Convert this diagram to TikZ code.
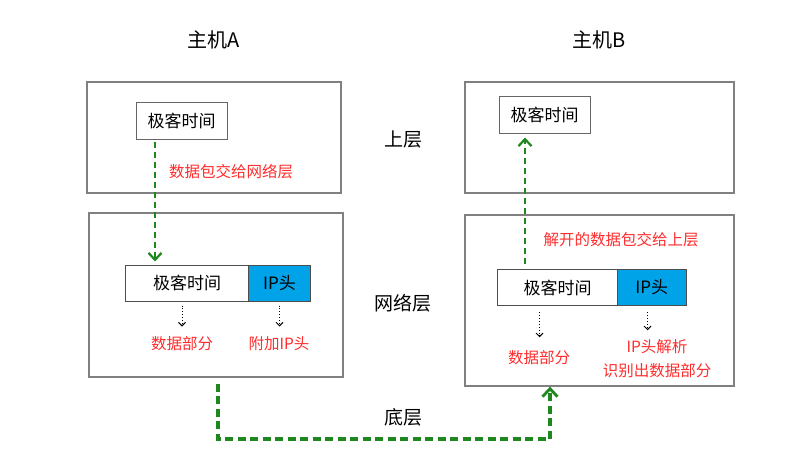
\documentclass[tikz,border=0pt]{standalone}
\usepackage{fontspec}
\setmainfont{Noto Sans CJK SC}
\usetikzlibrary{arrows.meta}
\definecolor{gborder}{RGB}{128,128,128}
\definecolor{ipblue}{RGB}{0,162,232}
\definecolor{ggreen}{RGB}{30,135,30}
\definecolor{tred}{RGB}{255,45,45}
\tikzset{
  layerbox/.style={draw=gborder, line width=1.3pt, minimum width=#1, inner sep=0pt},
  appbox/.style={draw=gborder!80!black, line width=1pt, inner sep=0pt, font=\fontsize{17}{19}\selectfont},
  datacell/.style={draw=gborder!60!black, line width=1pt, fill=white, inner sep=0pt, font=\fontsize{17}{19}\selectfont},
  ipcell/.style={draw=gborder!60!black, line width=1pt, fill=ipblue, inner sep=0pt, font=\fontsize{17}{19}\selectfont},
  redtxt/.style={text=tred, inner sep=0pt, font=\fontsize{15.5}{24}\selectfont, align=center},
  title/.style={inner sep=0pt, font=\fontsize{20}{22}\selectfont},
  layerlbl/.style={inner sep=0pt, font=\fontsize{19}{21}\selectfont},
  garrow/.style={draw=ggreen, line width=2.6pt, dash pattern=on 6pt off 4pt, -{Straight Barb[length=7pt,width=13pt,line width=2.2pt]}},
  groute/.style={draw=ggreen, line width=3.4pt, dash pattern=on 8pt off 4.5pt, -{Straight Barb[length=8pt,width=15pt,line width=2.8pt]}},
  darrow/.style={draw=black, line width=0.9pt, dotted, -{Straight Barb[length=3.5pt,width=7pt,line width=0.9pt]}},
}
\begin{document}
\begin{tikzpicture}[x=1pt,y=-1pt]
\path[use as bounding box, fill=white] (0,0) rectangle (796,460);

% titles
\node[title] (tA) at (214,40) {主机A};
\node[title] (tB) at (599,40) {主机B};

% layer labels
\node[layerlbl] (lUp) at (403,140) {上层};
\node[layerlbl] (lNet) at (403,303) {网络层};
\node[layerlbl] (lBot) at (403,417) {底层};

% host A boxes
\node[layerbox=254pt, minimum height=111pt] (aUp) at (214,137.5) {};
\node[layerbox=254pt, minimum height=164pt] (aNet) at (216,295) {};
\node[appbox, minimum width=91pt, minimum height=36pt] (aApp) at (181.5,121) {极客时间};
\node[datacell, minimum width=122.5pt, minimum height=36pt] (aData) at (187,283) {极客时间};
\node[ipcell, minimum width=62.5pt, minimum height=36pt] (aIP) at (279.5,283) {IP头};

% host B boxes
\node[layerbox=269pt, minimum height=111pt] (bUp) at (599.5,137.5) {};
\node[layerbox=269pt, minimum height=171pt] (bNet) at (599.5,300.5) {};
\node[appbox, minimum width=91pt, minimum height=36pt] (bApp) at (544.5,115) {极客时间};
\node[datacell, minimum width=120pt, minimum height=36.5pt] (bData) at (557.5,287.5) {极客时间};
\node[ipcell, minimum width=68.5pt, minimum height=36.5pt] (bIP) at (651.75,287.5) {IP头};

% red texts
\node[redtxt] (aMsg) at (231,172) {数据包交给网络层};
\node[redtxt] (aDataLbl) at (182,344) {数据部分};
\node[redtxt] (aIPLbl) at (279,344) {附加IP头};
\node[redtxt] (bMsg) at (621,239.5) {解开的数据包交给上层};
\node[redtxt] (bDataLbl) at (539,358) {数据部分};
\node[redtxt] (bIPLbl) at (657,359) {IP头解析\\识别出数据部分};

% helper coordinates
\coordinate (xA) at (155,0);
\coordinate (xB) at (525,0);
\coordinate (xAd) at (182,0);
\coordinate (xAi) at (279.5,0);
\coordinate (xBd) at (539.5,0);
\coordinate (xBi) at (647.5,0);
\coordinate (xRouteA) at (218,0);
\coordinate (xRouteB) at (550,0);
\coordinate (yRoute) at (0,439);

% green arrows
\draw[garrow] ([yshift=-2pt]aApp.south -| xA) -- ([yshift=3pt]aData.north -| xA);
\draw[garrow] ([yshift=5pt]bData.north -| xB) -- ([yshift=-4pt]bApp.south -| xB);
\draw[groute] ([yshift=-6pt]aNet.south -| xRouteA) -- (xRouteA |- yRoute) -- (xRouteB |- yRoute) -- (bNet.south -| xRouteB);

% dotted black arrows
\draw[darrow] ([yshift=-4pt]aData.south -| xAd) -- ([yshift=-25pt]aData.south -| xAd);
\draw[darrow] ([yshift=-4pt]aIP.south -| xAi) -- ([yshift=-25pt]aIP.south -| xAi);
\draw[darrow] ([yshift=-6pt]bData.south -| xBd) -- ([yshift=-31pt]bData.south -| xBd);
\draw[darrow] ([yshift=-6pt]bIP.south -| xBi) -- ([yshift=-24pt]bIP.south -| xBi);
\end{tikzpicture}
\end{document}
